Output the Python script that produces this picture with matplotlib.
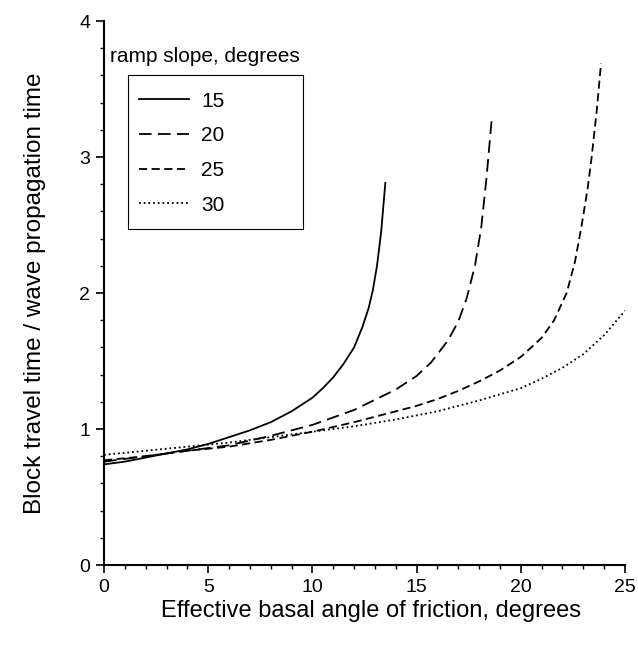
import matplotlib
matplotlib.use("Agg")
import matplotlib.pyplot as plt
from matplotlib.ticker import MultipleLocator
from matplotlib.patches import Rectangle

plt.rcParams['font.family'] = ['Liberation Sans', 'DejaVu Sans']

# Data
x15 = [0, 1, 2, 3, 4, 5, 6, 7, 8, 9, 10, 10.5, 11, 11.5, 12, 12.4, 12.7, 12.9, 13.1, 13.3, 13.5]
y15 = [0.74, 0.76, 0.79, 0.82, 0.85, 0.89, 0.94, 0.99, 1.05, 1.13, 1.23, 1.30, 1.38, 1.48, 1.60, 1.75, 1.89, 2.02, 2.20, 2.45, 2.81]

x20 = [0, 2, 4, 6, 8, 10, 12, 14, 15, 15.7, 16.5, 17.0, 17.4, 17.8, 18.1, 18.35, 18.6]
y20 = [0.76, 0.80, 0.84, 0.88, 0.95, 1.03, 1.14, 1.29, 1.39, 1.49, 1.65, 1.79, 1.96, 2.20, 2.48, 2.84, 3.27]

x25 = [0, 2, 4, 6, 8, 10, 12, 14, 15, 16, 17, 18, 19, 20, 21, 21.6, 22.2, 22.6, 22.9, 23.2, 23.4, 23.65, 23.85]
y25 = [0.77, 0.80, 0.84, 0.87, 0.92, 0.98, 1.05, 1.13, 1.17, 1.22, 1.28, 1.35, 1.43, 1.53, 1.67, 1.80, 2.00, 2.23, 2.48, 2.76, 3.00, 3.35, 3.69]

x30 = [0, 2, 4, 6, 8, 10, 12, 14, 16, 18, 20, 21, 22, 23, 24, 25]
y30 = [0.81, 0.84, 0.87, 0.90, 0.94, 0.98, 1.02, 1.07, 1.13, 1.21, 1.30, 1.37, 1.45, 1.55, 1.69, 1.87]

labels = ['15', '20', '25', '30']
xticks = [0, 5, 10, 15, 20, 25]
yticks = [0, 1, 2, 3, 4]

fig = plt.figure(figsize=(6.38, 6.49), dpi=100)
ax = fig.add_axes([104/638, 84/649, 521/638, 544/649])

lw = 1.3
ax.plot(x15, y15, color='black', lw=lw, linestyle='-', label=labels[0])
ax.plot(x20, y20, color='black', lw=lw, linestyle=(0, (7, 3.5)), label=labels[1])
ax.plot(x25, y25, color='black', lw=lw, linestyle=(0, (4.5, 2.5)), label=labels[2])
ax.plot(x30, y30, color='black', lw=lw, linestyle=(0, (1, 1.6)), label=labels[3])

ax.set_xlim(0, 25)
ax.set_ylim(0, 4)
ax.set_xticks(xticks)
ax.set_yticks(yticks)
ax.xaxis.set_minor_locator(MultipleLocator(1))
ax.yaxis.set_minor_locator(MultipleLocator(0.2))
ax.tick_params(which='major', direction='out', length=6, width=1.2, labelsize=14, pad=4)
ax.tick_params(which='minor', direction='out', length=3, width=1.0)
for s in ['top', 'right']:
    ax.spines[s].set_visible(False)
for s in ['left', 'bottom']:
    ax.spines[s].set_linewidth(1.5)

ax.set_xlabel('Effective basal angle of friction, degrees', fontsize=17)
ax.set_ylabel('Block travel time / wave propagation time', fontsize=17.5)
ax.xaxis.label.set_va('center')
ax.yaxis.label.set_va('center')
ax.xaxis.set_label_coords(0.512, -0.085)
ax.yaxis.set_label_coords(-0.132, 0.5)

leg = ax.legend(loc='upper left', bbox_to_anchor=(0.067, 0.870), borderaxespad=0,
                fontsize=15, handlelength=2.4, handletextpad=0.6, labelspacing=0.75,
                borderpad=0, frameon=False)
ax.add_patch(Rectangle((0.046, 0.618), 0.336, 0.283, transform=ax.transAxes,
                       fill=False, edgecolor='black', linewidth=0.8, zorder=5))
ax.text(0.0115, 0.934, 'ramp slope, degrees', transform=ax.transAxes, fontsize=15,
        ha='left', va='center')

fig.savefig('out.png', dpi=100)
